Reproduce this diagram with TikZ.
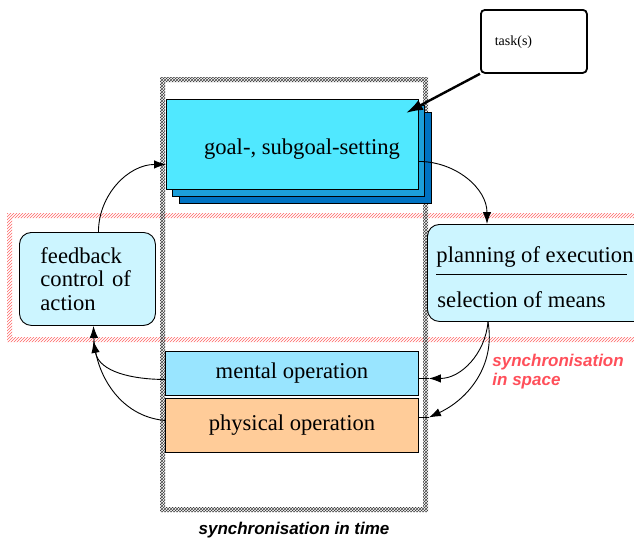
\documentclass[tikz,border=0pt]{standalone}
\usepackage{fontspec}
\setmainfont{Liberation Serif}
\setsansfont{Liberation Sans}
\usetikzlibrary{arrows.meta,patterns,positioning}
\definecolor{goalcyan}{HTML}{50E8FF}
\definecolor{goalmid}{HTML}{1C9FDA}
\definecolor{goaldark}{HTML}{0072C2}
\definecolor{paleblue}{HTML}{CCF5FF}
\definecolor{mentalblue}{HTML}{99E5FF}
\definecolor{physorange}{HTML}{FFCC99}
\definecolor{syncred}{HTML}{FF4F5A}
\newcommand{\boxfont}{\fontsize{22.6}{23.5}\selectfont}
\newcommand{\syncfont}{\sffamily\bfseries\itshape\fontsize{17}{18.5}\selectfont}

\begin{document}
\begin{tikzpicture}[x=1pt,y=-1pt,line width=0.9pt,>={Latex[length=12pt,width=8.5pt]}]
  \tikzstyle{box}=[rectangle,draw=black,inner sep=0pt,anchor=north west,font=\boxfont]
  \tikzstyle{softbox}=[box,rounded corners=12pt,fill=paleblue]
  \tikzstyle{layer}=[box,minimum width=252pt,minimum height=91pt]
  \tikzstyle{flow}=[->,black]

  \useasboundingbox (0,0) rectangle (634,539);
  \clip (0,0) rectangle (634,539);

  % synchronisation in space
  \path[pattern=north east lines,pattern color=red!60,even odd rule]
    (7,213) rectangle (660,342) (12,218) rectangle (655,337);
  % synchronisation in time
  \path[pattern=crosshatch,pattern color=black!75,even odd rule]
    (160,77) rectangle (428,512) (165,82) rectangle (423,507);

  % goal stack
  \node[layer,fill=goaldark] (goalC) at (179,112) {};
  \node[layer,fill=goalmid] (goalB) at (172,105) {};
  \node[layer,fill=goalcyan,minimum height=90pt] (goal) at (166,99) {};
  \node[font=\boxfont] (goaltext) at (302,149) {goal-, subgoal-setting};

  \node[box,rounded corners=4pt,line width=1.8pt,minimum width=106pt,minimum height=63pt,fill=white] (task) at (480,9) {};
  \node[anchor=west,font=\fontsize{14}{16}\selectfont] (tasktext) at (491,42) {task(s)};

  % planning / selection
  \node[softbox,minimum width=240pt,minimum height=97pt] (plan) at (427,224) {};
  \node[anchor=base west,font=\boxfont,inner sep=0pt] (planning) at (436,262) {planning of execution};
  \node[anchor=base west,font=\boxfont,inner sep=0pt] (selection) at (437,307) {selection of means};
  \draw ([xshift=9pt,yshift=-50pt]plan.north west) -- ++(191,0);

  \node[softbox,minimum width=136pt,minimum height=93pt,text width=94pt,inner xsep=21pt,align=left] (feedback) at (19,232) {feedback\\control of\\action};

  \node[box,fill=mentalblue,minimum width=253pt,minimum height=44pt] (mental) at (165,351) {mental operation};
  \node[box,fill=physorange,minimum width=253pt,minimum height=54pt] (physical) at (165,398) {physical operation};

  \node[font=\syncfont] (synctime) at (294,530) {synchronisation in time};
  \node[font=\syncfont,text=syncred,align=left,anchor=north west,inner sep=0pt] (syncspace) at (492,354) {synchronisation\\in space};

  % connectors
  \draw[line width=2.4pt,-{Latex[length=17pt,width=11pt]}] (task.south west) -- ([xshift=-13pt,yshift=-14pt]goal.north east);
  \draw[flow] ([yshift=-17pt]goal.east) to[out=0,in=90] ([xshift=60pt]plan.north west);
  \draw[flow] ([xshift=61pt]plan.south west) to[out=-95,in=0] ([xshift=10pt,yshift=-5pt]mental.east);
  \draw ([xshift=10pt,yshift=-5pt]mental.east) -- ([yshift=-5pt]mental.east);
  \draw[flow] ([xshift=61pt]plan.south west) to[out=-80,in=25] ([xshift=10pt,yshift=8pt]physical.east);
  \draw ([xshift=10pt,yshift=8pt]physical.east) -- ([yshift=8pt]physical.east);
  \draw[flow] ([yshift=-6pt]mental.west) to[out=180,in=-80] ([xshift=6pt,yshift=-15pt]feedback.south);
  \draw[flow] ([yshift=5pt]physical.west) to[out=175,in=-88] ([xshift=6pt]feedback.south);
  \draw[flow] ([xshift=11pt]feedback.north) to[out=90,in=180] ([yshift=-20pt]goal.west);
\end{tikzpicture}
\end{document}
